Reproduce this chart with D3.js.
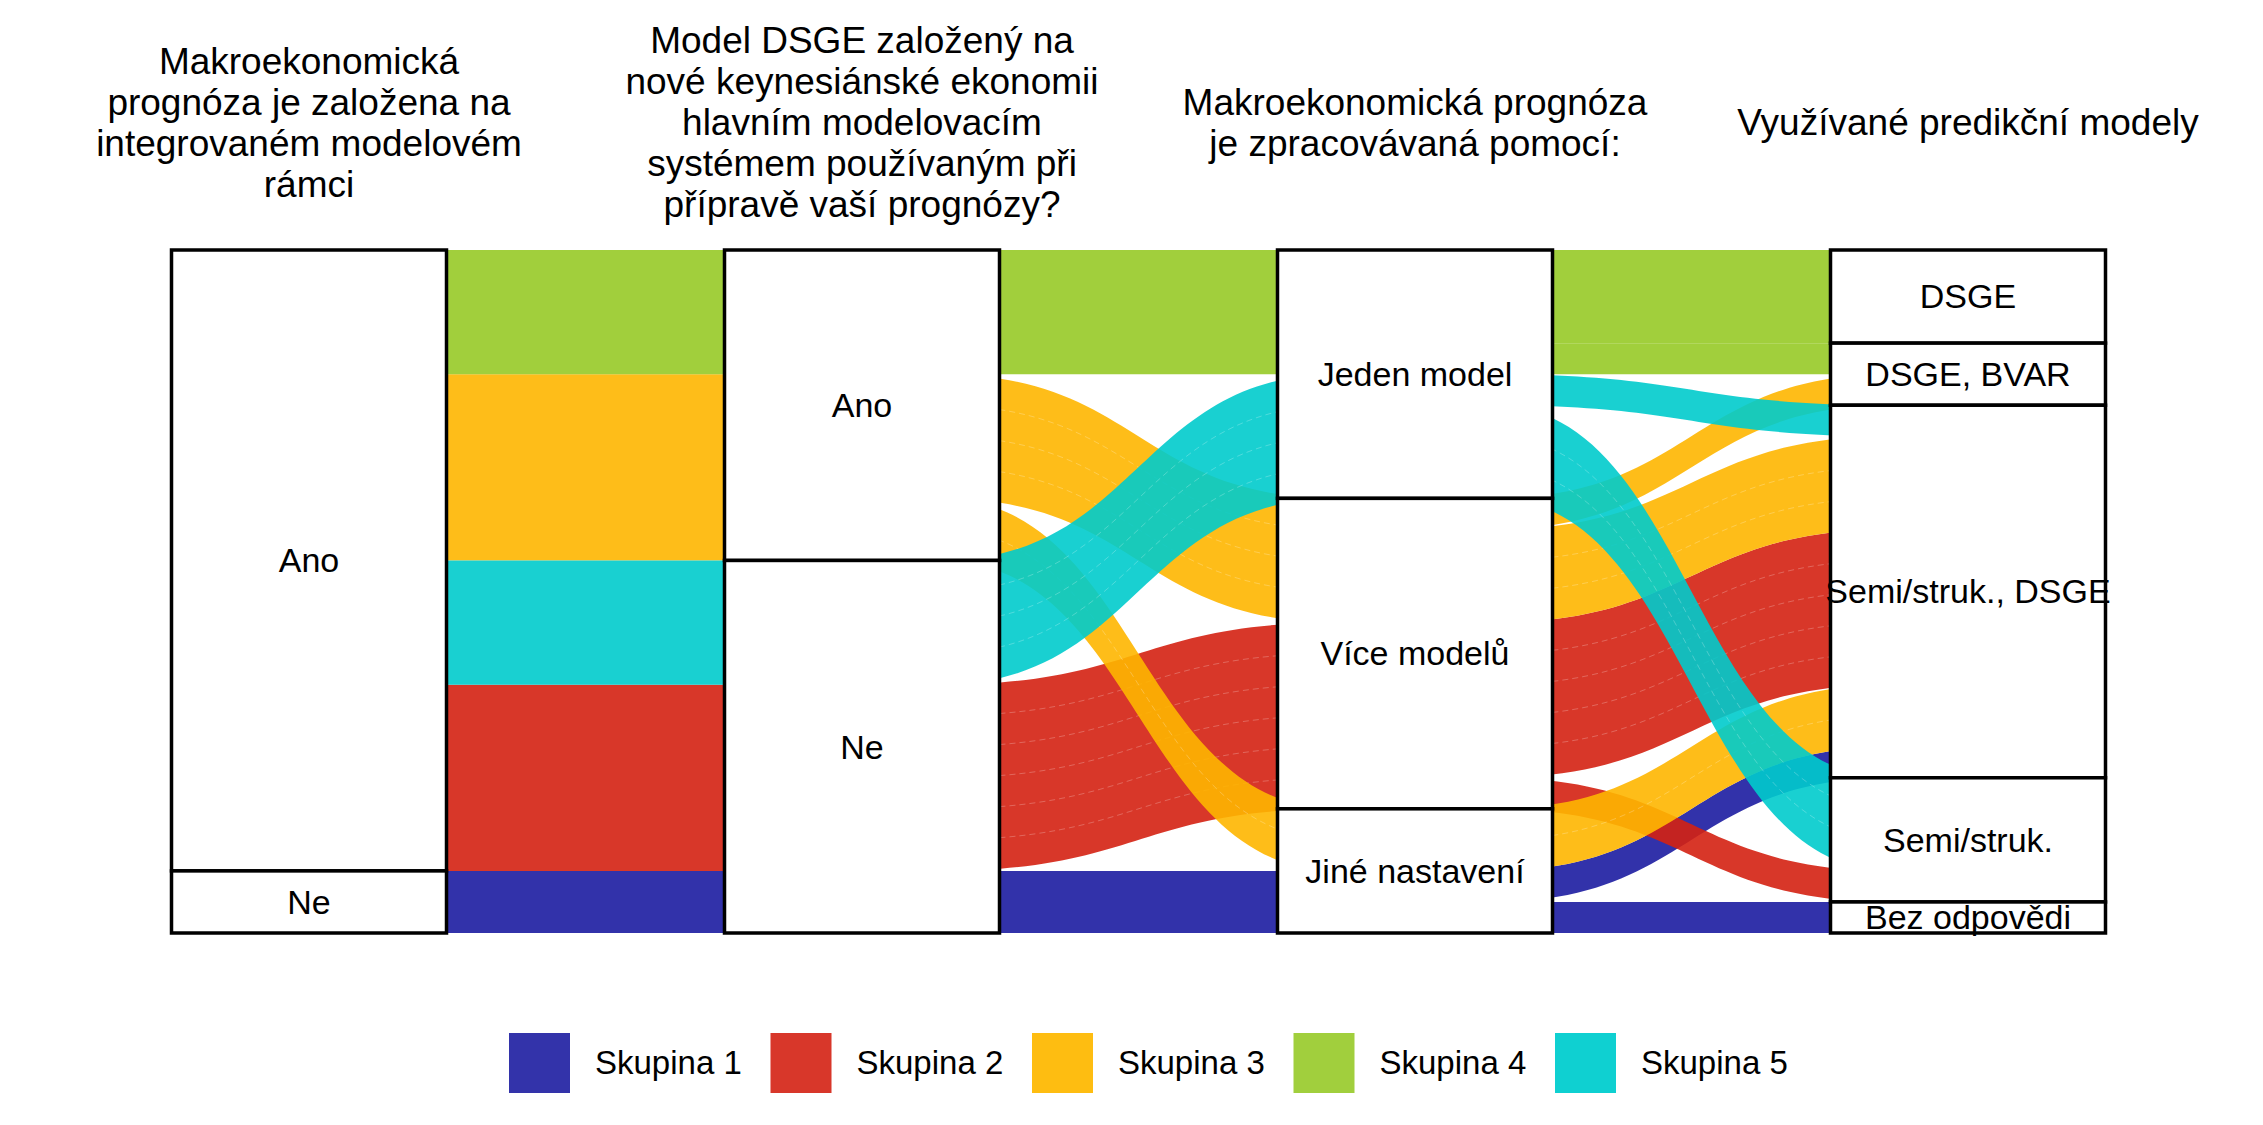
<!DOCTYPE html>
<html>
<head>
<meta charset="utf-8">
<script src="https://cdn.jsdelivr.net/npm/d3@7"></script>
<style>
  html, body { margin: 0; padding: 0; background: #fff; }
  svg { display: block; }
  text { font-family: "Liberation Sans", Arial, Helvetica, sans-serif; fill: #000; }
</style>
</head>
<body>
<svg id="chart" width="2263" height="1125"></svg>
<script>
// ---------------- DATA ----------------
const axisTitles = [
  ["Makroekonomická", "prognóza je založena na", "integrovaném modelovém", "rámci"],
  ["Model DSGE založený na", "nové keynesiánské ekonomii", "hlavním modelovacím", "systémem používaným při", "přípravě vaší prognózy?"],
  ["Makroekonomická prognóza", "je zpracovávaná pomocí:"],
  ["Využívané predikční modely"]
];
const strataA1 = ["Ano", "Ne"];
const strataA2 = ["Ano", "Ne"];
const strataA3 = ["Jeden model", "Více modelů", "Jiné nastavení"];
const strataA4 = ["DSGE", "DSGE, BVAR", "Semi/struk., DSGE", "Semi/struk.", "Bez odpovědi"];

const groups = ["Skupina 1", "Skupina 2", "Skupina 3", "Skupina 4", "Skupina 5"];
const groupColors = ["#3333AA", "#D8372A", "#FEBD11", "#A1CF3D", "#0FD0D1"];

// alluvia (rows): group, answer on each axis, weight
const rowGroup  = ["Skupina 4", "Skupina 4", "Skupina 3", "Skupina 3", "Skupina 3", "Skupina 5", "Skupina 5", "Skupina 2", "Skupina 2", "Skupina 1", "Skupina 1"];
const rowA1     = ["Ano", "Ano", "Ano", "Ano", "Ano", "Ano", "Ano", "Ano", "Ano", "Ne", "Ne"];
const rowA2     = ["Ano", "Ano", "Ano", "Ano", "Ano", "Ne", "Ne", "Ne", "Ne", "Ne", "Ne"];
const rowA3     = ["Jeden model", "Jeden model", "Více modelů", "Více modelů", "Jiné nastavení", "Jeden model", "Jeden model", "Více modelů", "Více modelů", "Jiné nastavení", "Jiné nastavení"];
const rowA4     = ["DSGE", "DSGE, BVAR", "DSGE, BVAR", "Semi/struk., DSGE", "Semi/struk., DSGE", "Semi/struk., DSGE", "Semi/struk.", "Semi/struk., DSGE", "Semi/struk.", "Semi/struk., DSGE", "Bez odpovědi"];
const rowWeight = [1.5, 0.5, 0.5, 1.5, 1, 0.5, 1.5, 2.5, 0.5, 0.5, 0.5];
const unitWeight = 0.5; // each respondent record

// ---------------- LAYOUT ----------------
const svg = d3.select("#chart");
const strataLists = [strataA1, strataA2, strataA3, strataA4];
const total = d3.sum(rowWeight);

const x = d3.scalePoint().domain(d3.range(4)).range([309, 1968]);
const y = d3.scaleLinear().domain([0, total]).range([250, 933]);
const colorOf = d3.scaleOrdinal().domain(groups).range(groupColors);
const alpha = 0.9;
function unblend(hex) {
  const c = d3.rgb(hex);
  const f = v => Math.max(0, Math.min(255, (v - (1 - alpha) * 255) / alpha));
  return d3.rgb(f(c.r), f(c.g), f(c.b)).formatHex();
}
const stratW = 275;
const flowExt = 60;

// expand rows into unit records
const recs = [];
rowGroup.forEach((g, i) => {
  const n = Math.round(rowWeight[i] / unitWeight);
  for (let k = 0; k < n; k++) {
    recs.push({
      id: recs.length,
      group: g,
      s: [rowA1[i], rowA2[i], rowA3[i], rowA4[i]].map((v, a) => strataLists[a].indexOf(v)),
      w: unitWeight
    });
  }
});

// strata boxes
const strataData = [];
strataLists.forEach((list, a) => {
  let acc = 0;
  list.forEach((name, si) => {
    const w = d3.sum(recs.filter(r => r.s[a] === si), r => r.w);
    strataData.push({ axis: a, name, y0: acc, y1: acc + w });
    acc += w;
  });
});

// flows per gap
let prevKey = recs.map(r => r.id);
const bands = [];
for (let a = 0; a < 3; a++) {
  const left = recs.slice().sort((p, q) =>
    d3.ascending(p.s[a], q.s[a]) || d3.ascending(p.s[a + 1], q.s[a + 1]) || d3.ascending(prevKey[p.id], prevKey[q.id]));
  const lpos = {};
  let acc = 0;
  left.forEach(r => { lpos[r.id] = acc; acc += r.w; });
  const right = recs.slice().sort((p, q) =>
    d3.ascending(p.s[a + 1], q.s[a + 1]) || d3.ascending(p.s[a], q.s[a]) || d3.ascending(lpos[p.id], lpos[q.id]));
  const rpos = {};
  acc = 0;
  right.forEach(r => { rpos[r.id] = acc; acc += r.w; });

  // merge contiguous records into bands
  let cur = null;
  left.forEach(r => {
    if (cur && cur.group === r.group && cur.sl === r.s[a] && cur.sr === r.s[a + 1] &&
        Math.abs(cur.r0 + cur.w - rpos[r.id]) < 1e-9) {
      cur.w += r.w; cur.parts.push(r.w);
    } else {
      cur = { gap: a, group: r.group, sl: r.s[a], sr: r.s[a + 1], l0: lpos[r.id], r0: rpos[r.id], w: r.w, parts: [r.w] };
      bands.push(cur);
    }
  });
  const nk = {};
  recs.forEach(r => { nk[r.id] = rpos[r.id]; });
  prevKey = nk;
}

function curve(xl, yl, xr, yr) {
  const xm = (xl + xr) / 2;
  return `C${xm},${yl} ${xm},${yr} ${xr},${yr}`;
}

const gFlows = svg.append("g");
bands.sort((p, q) => groups.indexOf(p.group) - groups.indexOf(q.group));
bands.forEach(b => {
  const xl = x(b.gap) + stratW / 2 - flowExt;
  const xr = x(b.gap + 1) - stratW / 2 + flowExt;
  const yl0 = y(b.l0), yl1 = y(b.l0 + b.w), yr0 = y(b.r0), yr1 = y(b.r0 + b.w);
  gFlows.append("path")
    .attr("d", `M${xl},${yl0}` + curve(xl, yl0, xr, yr0) + `L${xr},${yr1}` + curve(xr, yr1, xl, yl1) + "Z")
    .attr("fill", unblend(colorOf(b.group)))
    .attr("fill-opacity", alpha);
  if (Math.abs(yl0 - yr0) > 1 && b.parts.length > 1) {
    let c = 0;
    b.parts.slice(0, -1).forEach(pw => {
      c += pw;
      const a0 = y(b.l0 + c), a1 = y(b.r0 + c);
      gFlows.append("path")
        .attr("d", `M${xl},${a0}` + curve(xl, a0, xr, a1))
        .attr("fill", "none")
        .attr("stroke", "#fff")
        .attr("stroke-opacity", 0.3)
        .attr("stroke-width", 0.8)
        .attr("stroke-dasharray", "6,4");
    });
  }
});

// strata boxes
const gStrata = svg.append("g");
gStrata.selectAll("rect").data(strataData).join("rect")
  .attr("x", d => x(d.axis) - stratW / 2)
  .attr("width", stratW)
  .attr("y", d => y(d.y0))
  .attr("height", d => y(d.y1) - y(d.y0))
  .attr("fill", "#fff")
  .attr("stroke", "#000")
  .attr("stroke-width", 3.5);
gStrata.selectAll("text").data(strataData).join("text")
  .attr("x", d => x(d.axis))
  .attr("y", d => (y(d.y0) + y(d.y1)) / 2)
  .attr("dy", "0.35em")
  .attr("text-anchor", "middle")
  .attr("font-size", 34)
  .text(d => d.name);

// axis titles
const lineH = 41, titleMid = 135;
axisTitles.forEach((lines, a) => {
  const t = svg.append("text")
    .attr("text-anchor", "middle")
    .attr("font-size", 37);
  lines.forEach((ln, k) => {
    t.append("tspan")
      .attr("x", x(a))
      .attr("y", titleMid + (k - (lines.length - 1) / 2) * lineH)
      .text(ln);
  });
});

// legend
const legStep = 261.5, legX0 = 509, legY = 1033;
const leg = svg.append("g");
groups.forEach((g, i) => {
  const gx = legX0 + i * legStep;
  leg.append("rect")
    .attr("x", gx).attr("y", legY)
    .attr("width", 61).attr("height", 60)
    .attr("fill", colorOf(g));
  leg.append("text")
    .attr("x", gx + 86).attr("y", legY + 41)
    .attr("font-size", 33)
    .text(g);
});
</script>
</body>
</html>
